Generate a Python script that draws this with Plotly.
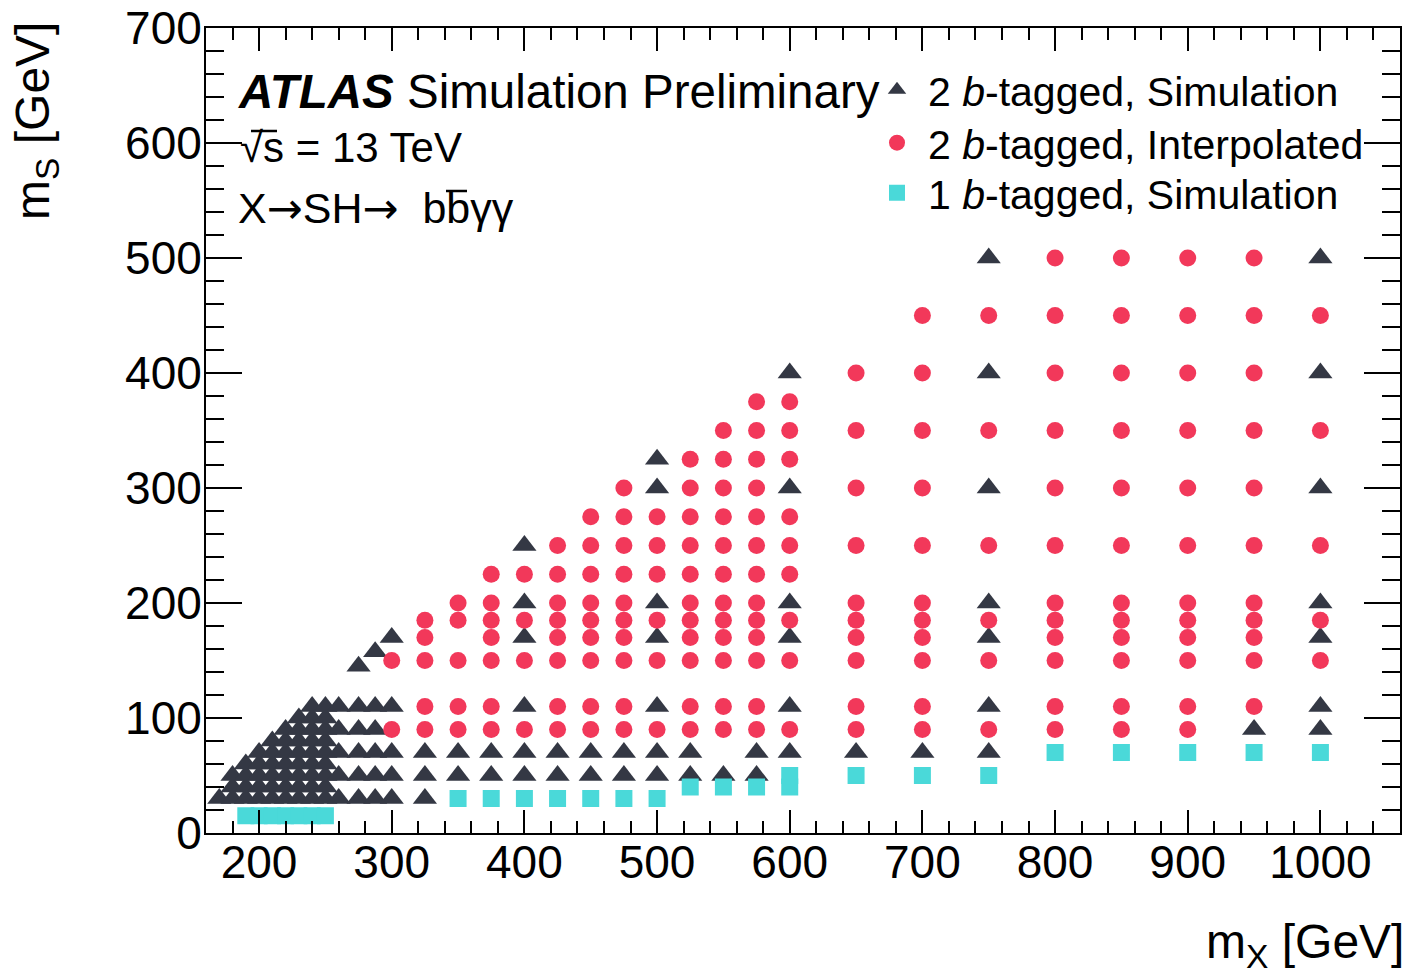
import plotly.graph_objects as go

# ---- mass points (GeV) ----
# 2 b-tagged, simulated signal samples: (m_X, m_S)
sim2b_mx = (
    [170]
    + [180] * 3
    + [190] * 4
    + [200] * 5
    + [210] * 6
    + [220] * 7
    + [230] * 8
    + [240] * 9
    + [250] * 9
    + [260] * 5
    + [275] * 6
    + [287.5] * 6
    + [300] * 5
    + [325] * 3
    + [350] * 2 + [375] * 2
    + [400] * 6
    + [425] * 2 + [450] * 2 + [475] * 2
    + [500] * 7
    + [525] * 2 + [550] * 1 + [575] * 2
    + [600] * 6
    + [650] * 1 + [700] * 1
    + [750] * 7
    + [950] * 1
    + [1000] * 7
)
sim2b_ms = (
    [30]
    + [30, 40, 50]
    + [30, 40, 50, 60]
    + [30, 40, 50, 60, 70]
    + [30, 40, 50, 60, 70, 80]
    + [30, 40, 50, 60, 70, 80, 90]
    + [30, 40, 50, 60, 70, 80, 90, 100]
    + [30, 40, 50, 60, 70, 80, 90, 100, 110]
    + [30, 40, 50, 60, 70, 80, 90, 100, 110]
    + [30, 50, 70, 90, 110]
    + [30, 50, 70, 90, 110, 145]
    + [30, 50, 70, 90, 110, 157.5]
    + [30, 50, 70, 110, 170]
    + [30, 50, 70]
    + [50, 70] + [50, 70]
    + [50, 70, 110, 170, 200, 250]
    + [50, 70] + [50, 70] + [50, 70]
    + [50, 70, 110, 170, 200, 300, 325]
    + [50, 70] + [50] + [50, 70]
    + [70, 110, 170, 200, 300, 400]
    + [70] + [70]
    + [70, 110, 170, 200, 300, 400, 500]
    + [90]
    + [90, 110, 170, 200, 300, 400, 500]
)

# 2 b-tagged, interpolated points
full_col = [90, 110, 150, 170, 185, 200, 250, 300, 350, 400, 450, 500]
interp2b_mx = (
    [300] * 2 + [325] * 5 + [350] * 5 + [375] * 7 + [400] * 4
    + [425] * 8 + [450] * 9 + [475] * 10 + [500] * 6
    + [525] * 11 + [550] * 12 + [575] * 13 + [600] * 9
    + [650] * 10 + [700] * 11 + [750] * 6
    + [800] * 12 + [850] * 12 + [900] * 12 + [950] * 11 + [1000] * 5
)
interp2b_ms = (
    [90, 150]
    + [90, 110, 150, 170, 185]
    + [90, 110, 150, 185, 200]
    + [90, 110, 150, 170, 185, 200, 225]
    + [90, 150, 185, 225]
    + [90, 110, 150, 170, 185, 200, 225, 250]
    + [90, 110, 150, 170, 185, 200, 225, 250, 275]
    + [90, 110, 150, 170, 185, 200, 225, 250, 275, 300]
    + [90, 150, 185, 225, 250, 275]
    + [90, 110, 150, 170, 185, 200, 225, 250, 275, 300, 325]
    + [90, 110, 150, 170, 185, 200, 225, 250, 275, 300, 325, 350]
    + [90, 110, 150, 170, 185, 200, 225, 250, 275, 300, 325, 350, 375]
    + [90, 150, 185, 225, 250, 275, 325, 350, 375]
    + [90, 110, 150, 170, 185, 200, 250, 300, 350, 400]
    + [90, 110, 150, 170, 185, 200, 250, 300, 350, 400, 450]
    + [90, 150, 185, 250, 350, 450]
    + full_col + full_col + full_col
    + [110, 150, 170, 185, 200, 250, 300, 350, 400, 450, 500]
    + [150, 185, 250, 350, 450]
)

# 1 b-tagged, simulated signal samples
sim1b_mx = (
    [190, 200, 210, 220, 230, 240, 250]
    + [350, 375, 400, 425, 450, 475, 500]
    + [525, 550, 575, 600, 600]
    + [650, 700, 750]
    + [800, 850, 900, 950, 1000]
)
sim1b_ms = (
    [15] * 7
    + [30] * 7
    + [40, 40, 40, 40, 50]
    + [50] * 3
    + [70] * 5
)

DARK = "#343844"
RED = "#f2385a"
CYAN = "#4ad9d9"
FONT = "Liberation Sans"

L, R, T, B = 206, 9, 28, 141
W, H = 1409, 974
PW, PH = W - L - R, H - T - B


def px(x):
    return (x - L) / PW


def py(y):
    return (H - B - y) / PH


fig = go.Figure()
fig.add_trace(go.Scatter(
    x=sim2b_mx, y=sim2b_ms, mode="markers", legend="legend",
    name="2 <i>b</i>-tagged, Simulation",
    marker=dict(symbol="triangle-up", size=21, color=DARK, line=dict(width=0)),
))
fig.add_trace(go.Scatter(
    x=interp2b_mx, y=interp2b_ms, mode="markers", legend="legend2",
    name="2 <i>b</i>-tagged, Interpolated",
    marker=dict(symbol="circle", size=17, color=RED, line=dict(width=0)),
))
fig.add_trace(go.Scatter(
    x=sim1b_mx, y=sim1b_ms, mode="markers", legend="legend3",
    name="1 <i>b</i>-tagged, Simulation",
    marker=dict(symbol="square", size=17, color=CYAN, line=dict(width=0)),
))

axis_common = dict(
    showline=True, linecolor="black", linewidth=2, mirror="allticks",
    ticks="inside", tickwidth=2, tickcolor="black",
    showgrid=False, zeroline=False, automargin=False,
    tickfont=dict(family=FONT, size=46, color="black"),
)
fig.update_xaxes(
    range=[160, 1060], tick0=0, dtick=100, ticklen=23, ticklabelstandoff=-12,
    minor=dict(ticks="inside", ticklen=12, tickwidth=2, tickcolor="black",
               tick0=0, dtick=20, showgrid=False),
    **axis_common,
)
fig.update_yaxes(
    range=[0, 700], tick0=0, dtick=100, ticklen=36, ticklabelstandoff=-7,
    minor=dict(ticks="inside", ticklen=18, tickwidth=2, tickcolor="black",
               tick0=0, dtick=20, showgrid=False),
    **axis_common,
)

ARROW = "<span style='font-family:DejaVu Sans'>\u2192</span>"
annotations = [
    dict(text="<b><i>ATLAS</i></b> Simulation Preliminary",
         x=px(236), y=py(91), size=47.5),
    dict(text="\u221as = 13 TeV", x=px(238), y=py(148), size=42),
    dict(text="X" + ARROW + "SH" + ARROW + "\u00a0\u00a0bb\u03b3\u03b3",
         x=px(236), y=py(208), size=43),
]
for a in annotations:
    fig.add_annotation(
        text=a["text"], x=a["x"], y=a["y"], xref="paper", yref="paper",
        xanchor="left", yanchor="middle", showarrow=False,
        font=dict(family=FONT, size=a["size"], color="black"),
    )

# bars of the square root and of the anti-b
for x0, x1, yb in [(251, 277, 131), (446, 467, 191)]:
    fig.add_shape(
        type="line", xref="paper", yref="paper",
        x0=px(x0), x1=px(x1), y0=py(yb), y1=py(yb),
        line=dict(color="black", width=2.5),
    )

# axis titles
fig.add_annotation(
    text="m<sub>X</sub> [GeV]", x=px(1406), y=py(945), xref="paper", yref="paper",
    xanchor="right", yanchor="middle", showarrow=False,
    font=dict(family=FONT, size=48, color="black"),
)
fig.add_annotation(
    text="m<sub>S</sub> [GeV]", x=px(36), y=py(20), xref="paper", yref="paper",
    xanchor="center", yanchor="top", textangle=-90, showarrow=False,
    font=dict(family=FONT, size=48, color="black"),
)

legend_common = dict(
    xanchor="left", yanchor="middle", itemwidth=52,
    bgcolor="rgba(0,0,0,0)", borderwidth=0, tracegroupgap=0,
    font=dict(family=FONT, size=41, color="black"),
)
fig.update_layout(
    width=W, height=H,
    margin=dict(l=L, r=R, t=T, b=B),
    plot_bgcolor="white", paper_bgcolor="white",
    font=dict(family=FONT, color="black"),
    showlegend=True,
    legend=dict(x=px(866), y=py(90), **legend_common),
    legend2=dict(x=px(866), y=py(143), **legend_common),
    legend3=dict(x=px(866), y=py(193), **legend_common),
)

fig.write_html("out.html")
